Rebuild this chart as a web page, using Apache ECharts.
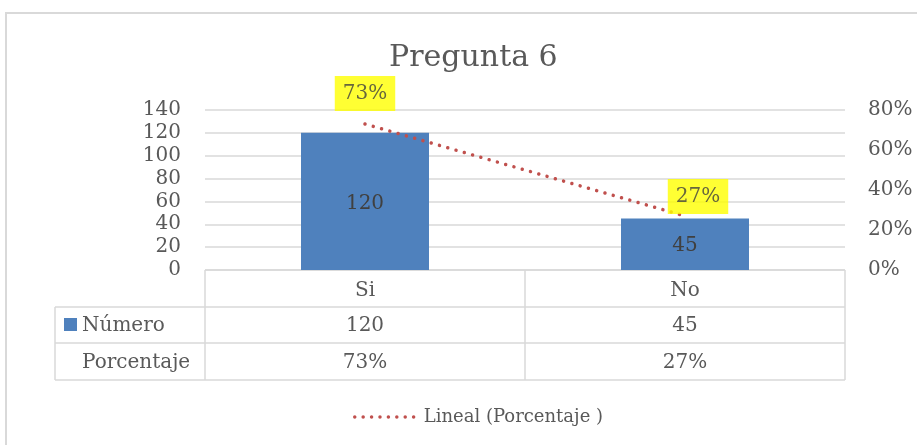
<!DOCTYPE html>
<html>
<head>
<meta charset="utf-8">
<script src="https://cdn.jsdelivr.net/npm/echarts@6/dist/echarts.min.js"></script>
<style>
  html, body { margin: 0; padding: 0; background: #fff; }
  #chart { width: 917px; height: 445px; }
</style>
</head>
<body>
<div id="chart"></div>
<script>
// Survey answers for question 6
const categories = ['Si', 'No'];
const counts = [120, 45];
const percents = [0.73, 0.27];
const countTicks = { min: 0, max: 140, step: 20 };
const percentTicks = { min: 0, max: 0.8, step: 0.2 };

const barName = 'Número';
const pctName = 'Porcentaje';
const trendName = 'Lineal (Porcentaje )';

const FONT = 'DejaVu Serif';
const TEXT = '#595959';
const RULE = '#D9D9D9';
const BLUE = '#4F81BD';
const RED = '#C0504D';
const CLEAR = 'rgba(0,0,0,0)';

const pct = v => Math.round(v * 100) + '%';

const grid = { left: 205, right: 72, top: 110, bottom: 175 };
const W = 917, H = 445;

const chart = echarts.init(document.getElementById('chart'), null, { renderer: 'canvas' });

// offsets for the percentage callouts (second one sits right of and lower than its point)
const pctLabelOffsets = [[0, 0], [13, 11]];

chart.setOption({
  animation: false,
  backgroundColor: '#fff',
  textStyle: { fontFamily: FONT },
  title: {
    text: 'Pregunta 6',
    left: 384,
    top: 38,
    textStyle: { fontFamily: FONT, fontSize: 30, fontWeight: 'normal', color: TEXT }
  },
  legend: {
    data: [trendName],
    left: 348,
    top: 403,
    itemWidth: 64,
    itemHeight: 14,
    itemGap: 12,
    itemStyle: { color: CLEAR, borderWidth: 0 },
    lineStyle: { width: 3.5, type: [0.01, 8.4], cap: 'round' },
    textStyle: { fontFamily: FONT, fontSize: 18, color: TEXT }
  },
  grid: grid,
  xAxis: {
    type: 'category',
    data: categories,
    axisLine: { show: false },
    axisTick: { show: false },
    axisLabel: { show: false },
    splitLine: { show: false }
  },
  yAxis: [
    {
      type: 'value',
      min: countTicks.min, max: countTicks.max, interval: countTicks.step,
      axisLine: { show: false },
      axisTick: { show: false },
      axisLabel: { margin: 24, fontFamily: FONT, fontSize: 20, color: TEXT },
      splitLine: { lineStyle: { color: RULE, width: 1.5 } }
    },
    {
      type: 'value',
      min: percentTicks.min, max: percentTicks.max, interval: percentTicks.step,
      axisLine: { show: false },
      axisTick: { show: false },
      axisLabel: { margin: 23, fontFamily: FONT, fontSize: 20, color: TEXT, formatter: pct },
      splitLine: { show: false }
    }
  ],
  series: [
    {
      name: barName,
      type: 'bar',
      data: counts,
      barWidth: '40%',
      itemStyle: { color: BLUE },
      label: {
        show: true, position: 'inside', offset: [0, 2],
        fontFamily: FONT, fontSize: 20, color: '#404040'
      }
    },
    {
      // linear trend through the percentage points
      name: trendName,
      type: 'line',
      yAxisIndex: 1,
      data: percents,
      symbol: 'none',
      lineStyle: { color: RED, width: 3.5, type: [0.01, 8.6], cap: 'round' },
      itemStyle: { color: RED },
      z: 4
    },
    {
      // the percentage series itself: markers hidden, only the yellow callouts
      name: pctName,
      type: 'scatter',
      yAxisIndex: 1,
      symbolSize: 2,
      itemStyle: { color: CLEAR },
      data: percents.map((v, i) => ({
        value: v,
        label: { offset: pctLabelOffsets[i] }
      })),
      label: {
        show: true,
        position: 'top',
        distance: 12,
        formatter: p => pct(p.value),
        fontFamily: FONT, fontSize: 20, color: '#404040',
        backgroundColor: '#FFFF00',
        padding: [8, 8, 7, 8]
      },
      z: 5
    }
  ]
});

// Data table under the plot: category row, counts row, percentages row
function drawTable() {
  const x0 = grid.left, x1 = W - grid.right;
  const yTop = H - grid.bottom;
  const rows = [yTop, 307, 343, 380];
  const leftEdge = 55;
  const n = categories.length;
  const colW = (x1 - x0) / n;
  const els = [];
  const line = (ax, ay, bx, by) => els.push({
    type: 'line', shape: { x1: ax, y1: ay, x2: bx, y2: by },
    style: { stroke: RULE, lineWidth: 1.5 }, silent: true
  });
  const text = (s, x, y, align) => els.push({
    type: 'text', x: x, y: y,
    style: { text: s, fontFamily: FONT, fontSize: 20, fill: TEXT,
             align: align || 'center', verticalAlign: 'middle' },
    silent: true
  });

  // horizontal rules
  line(x0, rows[0], x1, rows[0]);
  line(leftEdge, rows[1], x1, rows[1]);
  line(leftEdge, rows[2], x1, rows[2]);
  line(leftEdge, rows[3], x1, rows[3]);
  // vertical rules
  line(leftEdge, rows[1], leftEdge, rows[3]);
  for (let i = 0; i <= n; i++) {
    const x = x0 + i * colW;
    line(x, rows[0], x, rows[3]);
  }
  // row headers
  els.push({ type: 'rect', shape: { x: 64, y: 318, width: 13, height: 13 },
             style: { fill: BLUE }, silent: true });
  text(barName, 82, (rows[1] + rows[2]) / 2 + 1, 'left');
  text(pctName, 82, (rows[2] + rows[3]) / 2 + 1, 'left');
  // cells
  categories.forEach((c, i) => {
    const cx = chart.convertToPixel({ xAxisIndex: 0 }, c);
    text(c, cx, (rows[0] + rows[1]) / 2 + 2);
    text(String(counts[i]), cx, (rows[1] + rows[2]) / 2 + 1);
    text(pct(percents[i]), cx, (rows[2] + rows[3]) / 2 + 1);
  });
  // chart area frame
  els.push({ type: 'rect', shape: { x: 6, y: 13, width: 930, height: 460 },
             style: { fill: null, stroke: RULE, lineWidth: 2 }, silent: true, z: -1 });
  chart.setOption({ graphic: { elements: els } });
}
drawTable();
</script>
</body>
</html>
